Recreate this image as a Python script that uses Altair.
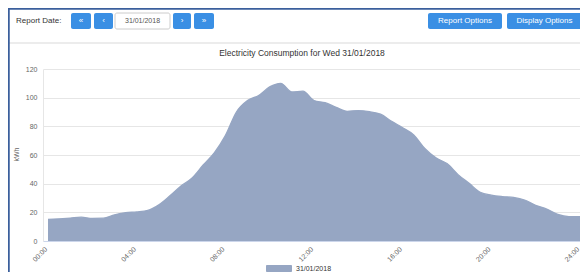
import altair as alt
import pandas as pd

# ---- data ----
times = ["00:00", "00:30", "01:00", "01:30", "02:00", "02:30", "03:00", "03:30",
         "04:00", "04:30", "05:00", "05:30", "06:00", "06:30", "07:00", "07:30",
         "08:00", "08:30", "09:00", "09:30", "10:00", "10:30", "11:00", "11:30",
         "12:00", "12:30", "13:00", "13:30", "14:00", "14:30", "15:00", "15:30",
         "16:00", "16:30", "17:00", "17:30", "18:00", "18:30", "19:00", "19:30",
         "20:00", "20:30", "21:00", "21:30", "22:00", "22:30", "23:00", "23:30",
         "24:00"]
kwh = [15.1, 15.5, 16.0, 16.6, 15.8, 15.9, 18.3, 19.7,
       20.3, 21.3, 25.2, 31.5, 38.3, 44.0, 53.0, 61.5,
       73.5, 90.0, 98.0, 101.5, 107.5, 110.0, 104.0, 104.5,
       98.0, 96.5, 93.3, 90.5, 91.0, 90.2, 88.5, 83.5,
       79.0, 74.0, 64.5, 58.0, 54.0, 46.3, 40.2, 34.0,
       32.0, 31.0, 30.4, 28.6, 24.9, 22.3, 18.5, 17.0,
       17.0]
series_name = "31/01/2018"
x_ticks = [0, 4, 8, 12, 16, 20, 24]
y_ticks = [0, 20, 40, 60, 80, 100, 120]
chart_title = "Electricity Consumption for Wed 31/01/2018"
y_title = "kWh"

hours = [int(t[:2]) + int(t[3:]) / 60 for t in times]
df = pd.DataFrame({"hour": hours, "kwh": kwh, "series": series_name})

FONT = "Liberation Sans"
FILL = "#96a6c3"
LINE = "#6b7ea6"
BTN = "#3a8fe4"

area = alt.Chart(df).mark_area(
    interpolate="monotone", color=FILL, opacity=1,
    line=alt.OverlayMarkDef(color=LINE, strokeWidth=1.3),
).encode(
    x=alt.X("hour:Q", scale=alt.Scale(domain=[-0.2256, 24], nice=False, zero=False),
            axis=alt.Axis(values=x_ticks, title=None, grid=False, labelAngle=-45,
                          labelAlign="right", labelBaseline="bottom", labelPadding=9,
                          tickSize=0, domainColor="#ccd6eb", labelColor="#666666",
                          labelFontSize=7, labelFont=FONT, labelFlush=False,
                          labelOverlap=False,
                          labelExpr="(datum.value < 10 ? '0' : '') + datum.value + ':00'")),
    y=alt.Y("kwh:Q", scale=alt.Scale(domain=[0, 120], nice=False),
            axis=alt.Axis(values=y_ticks, title=y_title, grid=True, gridColor="#e6e6e6",
                          domainColor="#e6e6e6", tickSize=0, labelPadding=6,
                          labelColor="#666666", labelFontSize=7, labelFont=FONT,
                          titleFontSize=7, titleFont=FONT, titleColor="#666666",
                          titleFontWeight="normal", titleX=-27, titleY=85,
                          titleAngle=-90, titleAlign="center", titleBaseline="middle")),
    color=alt.Color("series:N", scale=alt.Scale(range=[FILL]),
                    legend=alt.Legend(title=None, orient="none", legendX=223, legendY=186.5,
                                      padding=0, symbolType="M-1,-0.24L1,-0.24L1,0.24L-1,0.24Z",
                                      symbolSize=625, symbolStrokeColor=LINE,
                                      symbolStrokeWidth=1, symbolOpacity=1,
                                      labelFontSize=7, labelFont=FONT, labelColor="#333333",
                                      labelOffset=4)),
)

one = pd.DataFrame({"a": [0]})
layers = [area]

# page decoration (frame, toolbar, buttons)
def rule(x1, x2, y1, y2, color, w):
    return alt.Chart(one).mark_rule(color=color, strokeWidth=w).encode(
        x=alt.value(x1), x2=alt.value(x2), y=alt.value(y1), y2=alt.value(y2))

layers.append(rule(-35, 537, -26, -26, "#e6e6e6", 1.5))
layers.append(rule(-37, 537, -60.5, -60.5, "#3b5f9c", 2.5))
layers.append(rule(-34.5, -34.5, -61, 212, "#3b5f9c", 2.5))

def text(x, y, s, size, color, align="left", weight="normal"):
    return alt.Chart(one).mark_text(text=s, fontSize=size, color=color, align=align,
                                    baseline="middle", font=FONT, fontWeight=weight).encode(
        x=alt.value(x), y=alt.value(y))

buttons = [(28, 48, "\u00ab"), (51, 70, "\u2039"), (130, 148, "\u203a"), (151, 171, "\u00bb"),
           (385, 459, "Report Options"), (464, 539, "Display Options")]
for x1, x2, label in buttons:
    layers.append(alt.Chart(one).mark_rect(color=BTN, cornerRadius=2).encode(
        x=alt.value(x1), x2=alt.value(x2), y=alt.value(-56), y2=alt.value(-40)))
    layers.append(text((x1 + x2) / 2, -48, label, 8, "white", "center"))

layers.append(alt.Chart(one).mark_rect(color="white", stroke="#cccccc", strokeWidth=1,
                                       cornerRadius=2).encode(
    x=alt.value(72), x2=alt.value(127), y=alt.value(-56), y2=alt.value(-40)))
layers.append(text(99.5, -48, "31/01/2018", 7, "#555555", "center"))
layers.append(text(-27, -48, "Report Date:", 8, "#333333"))
layers.append(text(259, -16, chart_title, 8.5, "#333333", "center"))

chart = alt.layer(*layers).properties(
    width=537, height=172,
    padding={"left": 35, "top": 61, "right": 0, "bottom": 31},
    autosize=alt.AutoSizeParams(type="none"),
    background="white",
).configure_view(stroke=None)

chart.save("out.html", embed_options={"renderer": "svg", "actions": False})
